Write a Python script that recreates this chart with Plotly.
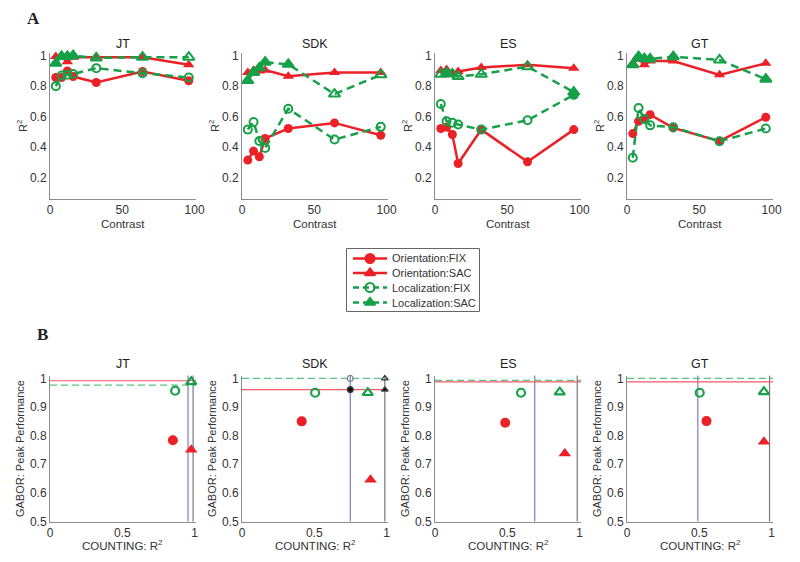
import plotly.graph_objects as go
from plotly.subplots import make_subplots

# ---------------- data ----------------
subjects = ["JT", "SDK", "ES", "GT"]
contrast = [4, 8, 12, 16, 32, 64, 96]

ori_fix = {
    "JT":  [0.857, 0.857, 0.900, 0.863, 0.824, 0.896, 0.835],
    "SDK": [0.315, 0.374, 0.337, 0.457, 0.522, 0.559, 0.478],
    "ES":  [0.522, 0.530, 0.483, 0.293, 0.515, 0.304, 0.515],
    "GT":  [0.489, 0.570, 0.585, 0.613, 0.526, 0.439, 0.596],
}
ori_sac = {
    "JT":  [0.995, 0.990, 0.960, 0.990, 0.990, 0.990, 0.940],
    "SDK": [0.890, 0.905, 0.900, 0.905, 0.865, 0.890, 0.890],
    "ES":  [0.902, 0.910, 0.880, 0.896, 0.922, 0.940, 0.917],
    "GT":  [0.950, 0.978, 0.940, 0.965, 0.965, 0.874, 0.950],
}
loc_fix = {
    "JT":  [0.800, 0.870, 0.875, 0.880, 0.918, 0.885, 0.857],
    "SDK": [0.515, 0.565, 0.440, 0.395, 0.652, 0.450, 0.533],
    "ES":  [0.683, 0.570, 0.560, 0.548, 0.515, 0.576, 0.743],
    "GT":  [0.330, 0.657, 0.585, 0.543, 0.530, 0.439, 0.522],
}
loc_fix_filled = {
    "JT":  [0, 0, 0, 0, 0, 0, 0],
    "SDK": [0, 0, 0, 0, 0, 0, 0],
    "ES":  [0, 0, 0, 0, 0, 0, 1],
    "GT":  [0, 0, 0, 0, 0, 0, 0],
}
loc_sac = {
    "JT":  [0.950, 0.995, 0.995, 1.000, 0.985, 0.990, 0.990],
    "SDK": [0.837, 0.890, 0.920, 0.957, 0.943, 0.748, 0.874],
    "ES":  [0.878, 0.889, 0.880, 0.863, 0.878, 0.928, 0.761],
    "GT":  [0.940, 0.993, 0.980, 0.978, 0.993, 0.972, 0.846],
}
loc_sac_filled = {
    "JT":  [1, 1, 1, 1, 0, 0, 0],
    "SDK": [1, 1, 1, 1, 1, 0, 0],
    "ES":  [0, 1, 0, 0, 0, 0, 1],
    "GT":  [1, 1, 1, 1, 1, 0, 1],
}

# panel B
count_fix = [0.955, 0.749, 0.690, 0.490]   # COUNTING R^2, FIX
count_sac = [0.990, 0.988, 0.984, 0.986]   # COUNTING R^2, SAC
peak_ori = [0.992, 0.961, 0.988, 0.988]    # GABOR peak, orientation
peak_loc = [0.977, 1.000, 0.993, 1.000]    # GABOR peak, localization

b_ori_fix_x = [0.850, 0.413, 0.486, 0.550]
b_ori_fix_y = [0.784, 0.850, 0.845, 0.851]
b_ori_sac_x = [0.977, 0.889, 0.898, 0.947]
b_ori_sac_y = [0.751, 0.646, 0.738, 0.779]
b_loc_fix_x = [0.866, 0.506, 0.595, 0.503]
b_loc_fix_y = [0.957, 0.950, 0.950, 0.950]
b_loc_sac_x = [0.977, 0.870, 0.863, 0.947]
b_loc_sac_y = [0.988, 0.950, 0.952, 0.953]

legend_names = ["Orientation:FIX", "Orientation:SAC", "Localization:FIX", "Localization:SAC"]

top_yticks = [0.2, 0.4, 0.6, 0.8, 1.0]
top_yticktext = ["0.2", "0.4", "0.6", "0.8", "1"]
top_xticks = [0, 50, 100]
bot_yticks = [0.5, 0.6, 0.7, 0.8, 0.9, 1.0]
bot_yticktext = ["0.5", "0.6", "0.7", "0.8", "0.9", "1"]
bot_xticks = [0, 0.5, 1]
bot_xticktext = ["0", "0.5", "1"]

# ---------------- styling ----------------
W, H = 800, 562
OFF = 8  # the page body adds an 8px margin around the figure
RED = "rgb(236,32,39)"
GREEN = "rgb(22,160,72)"
HRED = "rgb(242,90,100)"
HGREEN = "rgb(90,195,130)"
VFIX = "rgb(125,125,195)"
VSAC = "rgb(120,120,120)"
AXC = "#8c8c8c"
FONT = "Liberation Sans, Arial, sans-serif"

xdoms = [(50, 196), (242, 388), (435, 581), (627, 773)]
top_py = (52.6, 199.0)
bot_py = (375.6, 521.5)


def px(x):
    return (x - OFF) / W


def py(y):
    return 1 - (y - OFF) / H


def dx(a, b):
    return [px(a), px(b)]


def dy(top, bottom):
    return [py(bottom), py(top)]


fig = make_subplots(rows=2, cols=4)

for i, s in enumerate(subjects):
    xa = i + 1
    # top panel
    fig.add_trace(go.Scatter(
        x=contrast, y=ori_fix[s], mode="lines+markers",
        line=dict(color=RED, width=2.5),
        marker=dict(symbol="circle", size=9, color=RED),
        showlegend=False, cliponaxis=False), row=1, col=i + 1)
    fig.add_trace(go.Scatter(
        x=contrast, y=ori_sac[s], mode="lines+markers",
        line=dict(color=RED, width=2.5),
        marker=dict(symbol="triangle-up", size=10, color=RED),
        showlegend=False, cliponaxis=False), row=1, col=i + 1)
    fig.add_trace(go.Scatter(
        x=contrast, y=loc_fix[s], mode="lines+markers",
        line=dict(color=GREEN, width=2.5, dash="8px,5px"),
        marker=dict(symbol=["circle" if f else "circle-open" for f in loc_fix_filled[s]],
                    size=8, color=GREEN, line=dict(color=GREEN, width=2)),
        showlegend=False, cliponaxis=False), row=1, col=i + 1)
    fig.add_trace(go.Scatter(
        x=contrast, y=loc_sac[s], mode="lines+markers",
        line=dict(color=GREEN, width=2.5, dash="8px,5px"),
        marker=dict(symbol=["triangle-up" if f else "triangle-up-open" for f in loc_sac_filled[s]],
                    size=10, color=GREEN, line=dict(color=GREEN, width=2)),
        showlegend=False, cliponaxis=False), row=1, col=i + 1)

    # bottom panel
    fig.add_trace(go.Scatter(
        x=[b_ori_fix_x[i]], y=[b_ori_fix_y[i]], mode="markers",
        marker=dict(symbol="circle", size=10, color=RED),
        showlegend=False, cliponaxis=False), row=2, col=i + 1)
    fig.add_trace(go.Scatter(
        x=[b_ori_sac_x[i]], y=[b_ori_sac_y[i]], mode="markers",
        marker=dict(symbol="triangle-up", size=11, color=RED),
        showlegend=False, cliponaxis=False), row=2, col=i + 1)
    fig.add_trace(go.Scatter(
        x=[b_loc_fix_x[i]], y=[b_loc_fix_y[i]], mode="markers",
        marker=dict(symbol="circle-open", size=8, color=GREEN, line=dict(width=2.2)),
        showlegend=False, cliponaxis=False), row=2, col=i + 1)
    fig.add_trace(go.Scatter(
        x=[b_loc_sac_x[i]], y=[b_loc_sac_y[i]], mode="markers",
        marker=dict(symbol="triangle-up-open", size=9, color=GREEN, line=dict(width=2.2)),
        showlegend=False, cliponaxis=False), row=2, col=i + 1)

    if s == "SDK":
        fig.add_trace(go.Scatter(
            x=[count_fix[i], count_sac[i], count_fix[i], count_sac[i]],
            y=[peak_loc[i], peak_loc[i], peak_ori[i], peak_ori[i]],
            mode="markers",
            marker=dict(symbol=["circle-open", "triangle-up-open", "circle", "triangle-up"],
                        size=6, color=["rgb(120,130,150)", "#333", "#111", "#111"],
                        line=dict(width=1.2)),
            showlegend=False, cliponaxis=False), row=2, col=i + 1)

    bx = i + 5
    for val, col in ((count_fix[i], VFIX), (count_sac[i], VSAC)):
        fig.add_shape(type="line", xref=f"x{bx}", yref=f"y{bx} domain",
                      x0=val, x1=val, y0=0, y1=1,
                      line=dict(color=col, width=1.2), layer="below")
    fig.add_shape(type="line", xref=f"x{bx} domain", yref=f"y{bx}",
                  x0=0, x1=1, y0=peak_ori[i], y1=peak_ori[i],
                  line=dict(color=HRED, width=1.2), layer="below")
    fig.add_shape(type="line", xref=f"x{bx} domain", yref=f"y{bx}",
                  x0=0, x1=1, y0=peak_loc[i], y1=peak_loc[i],
                  line=dict(color=HGREEN, width=1.2, dash="7px,4px"), layer="below")

    # arrows on the right of the top panels
    for val, col in ((count_sac[i], VSAC), (count_fix[i], VFIX)):
        fig.add_annotation(xref=f"x{xa}", yref=f"y{xa}", x=102.5, y=val,
                           ax=13, ay=0, axref="pixel", ayref="pixel",
                           showarrow=True, arrowhead=1, arrowsize=0.9,
                           arrowwidth=1, arrowcolor=col, text="")

    # titles and x-axis titles
    cx = px((xdoms[i][0] + xdoms[i][1]) / 2)
    for text, yy, size in ((s, 44, 12.5), (s, 364, 12.5),
                           ("Contrast", 224, 11.5), ("COUNTING: R<sup>2</sup>", 545, 11.5)):
        fig.add_annotation(xref="paper", yref="paper", x=cx, y=py(yy),
                           xanchor="center", yanchor="middle",
                           text=text, showarrow=False,
                           font=dict(size=size, color="#222" if size > 12 else "#333", family=FONT))

# ---------------- hand-built legend box ----------------
LEG = (346, 480, 248, 312)  # left, right, top, bottom in screen pixels
leg_rows = [258.5, 273, 287.5, 302.5]
leg_styles = [(RED, "circle", "solid"), (RED, "triangle-up", "solid"),
              (GREEN, "circle-open", "6px,4px"), (GREEN, "triangle-up", "6px,4px")]
for name, row_y, (col, sym, dash) in zip(legend_names, leg_rows, leg_styles):
    fig.add_trace(go.Scatter(x=[353, 387], y=[row_y, row_y], mode="lines",
                             line=dict(color=col, width=2.5, dash=dash),
                             xaxis="x9", yaxis="y9", showlegend=False, hoverinfo="skip"))
    fig.add_trace(go.Scatter(x=[370], y=[row_y], mode="markers",
                             marker=dict(symbol=sym, size=9, color=col, line=dict(color=col, width=2)),
                             xaxis="x9", yaxis="y9", showlegend=False, cliponaxis=False,
                             hoverinfo="skip"))
    fig.add_annotation(xref="x9", yref="y9", x=390, y=row_y, text=name, showarrow=False,
                       xanchor="left", yanchor="middle",
                       font=dict(size=11, color="#333", family=FONT))
fig.add_shape(type="rect", xref="x9", yref="y9", x0=LEG[0] + 0.5, x1=LEG[1] - 0.5,
              y0=LEG[2] + 0.5, y1=LEG[3] - 0.5, line=dict(color="#666", width=1))

axis_common = dict(showline=True, linecolor=AXC, linewidth=1, showgrid=False,
                   zeroline=False, ticks="", automargin=False,
                   tickfont=dict(size=12, color="#333", family=FONT),
                   title_font=dict(size=11, color="#333", family=FONT))

for i in range(4):
    t = i + 1
    b = i + 5
    fig.layout[f"xaxis{t if t > 1 else ''}"].update(
        domain=dx(*xdoms[i]), range=[0, 101], tickvals=top_xticks, **axis_common)
    fig.layout[f"yaxis{t if t > 1 else ''}"].update(
        domain=dy(*top_py), range=[0.06, 1.02], tickvals=top_yticks, ticktext=top_yticktext,
        title_text="R<sup>2</sup>", title_standoff=0, **axis_common)
    fig.layout[f"xaxis{b}"].update(
        domain=dx(*xdoms[i]), range=[0, 1.01], tickvals=bot_xticks, ticktext=bot_xticktext,
        **axis_common)
    fig.layout[f"yaxis{b}"].update(
        domain=dy(*bot_py), range=[0.5, 1.01], tickvals=bot_yticks, ticktext=bot_yticktext,
        title_text="GABOR: Peak Performance", title_standoff=3, **axis_common)

fig.update_layout(
    xaxis9=dict(domain=dx(LEG[0], LEG[1]), range=[LEG[0], LEG[1]], visible=False,
                anchor="y9", fixedrange=True),
    yaxis9=dict(domain=dy(LEG[2], LEG[3]), range=[LEG[3], LEG[2]], visible=False,
                anchor="x9", fixedrange=True),
)

fig.add_annotation(xref="paper", yref="paper", x=px(33), y=py(18), text="<b>A</b>",
                   xanchor="center", yanchor="middle", showarrow=False,
                   font=dict(size=17, color="#222", family="Liberation Serif, serif"))
fig.add_annotation(xref="paper", yref="paper", x=px(42), y=py(334), text="<b>B</b>",
                   xanchor="center", yanchor="middle", showarrow=False,
                   font=dict(size=17, color="#222", family="Liberation Serif, serif"))

fig.update_layout(
    width=W, height=H, margin=dict(l=0, r=0, t=0, b=0, autoexpand=False),
    paper_bgcolor="white", plot_bgcolor="white",
    font=dict(family=FONT, size=12, color="#333"),
    showlegend=False,
)

fig.write_html("out.html")
